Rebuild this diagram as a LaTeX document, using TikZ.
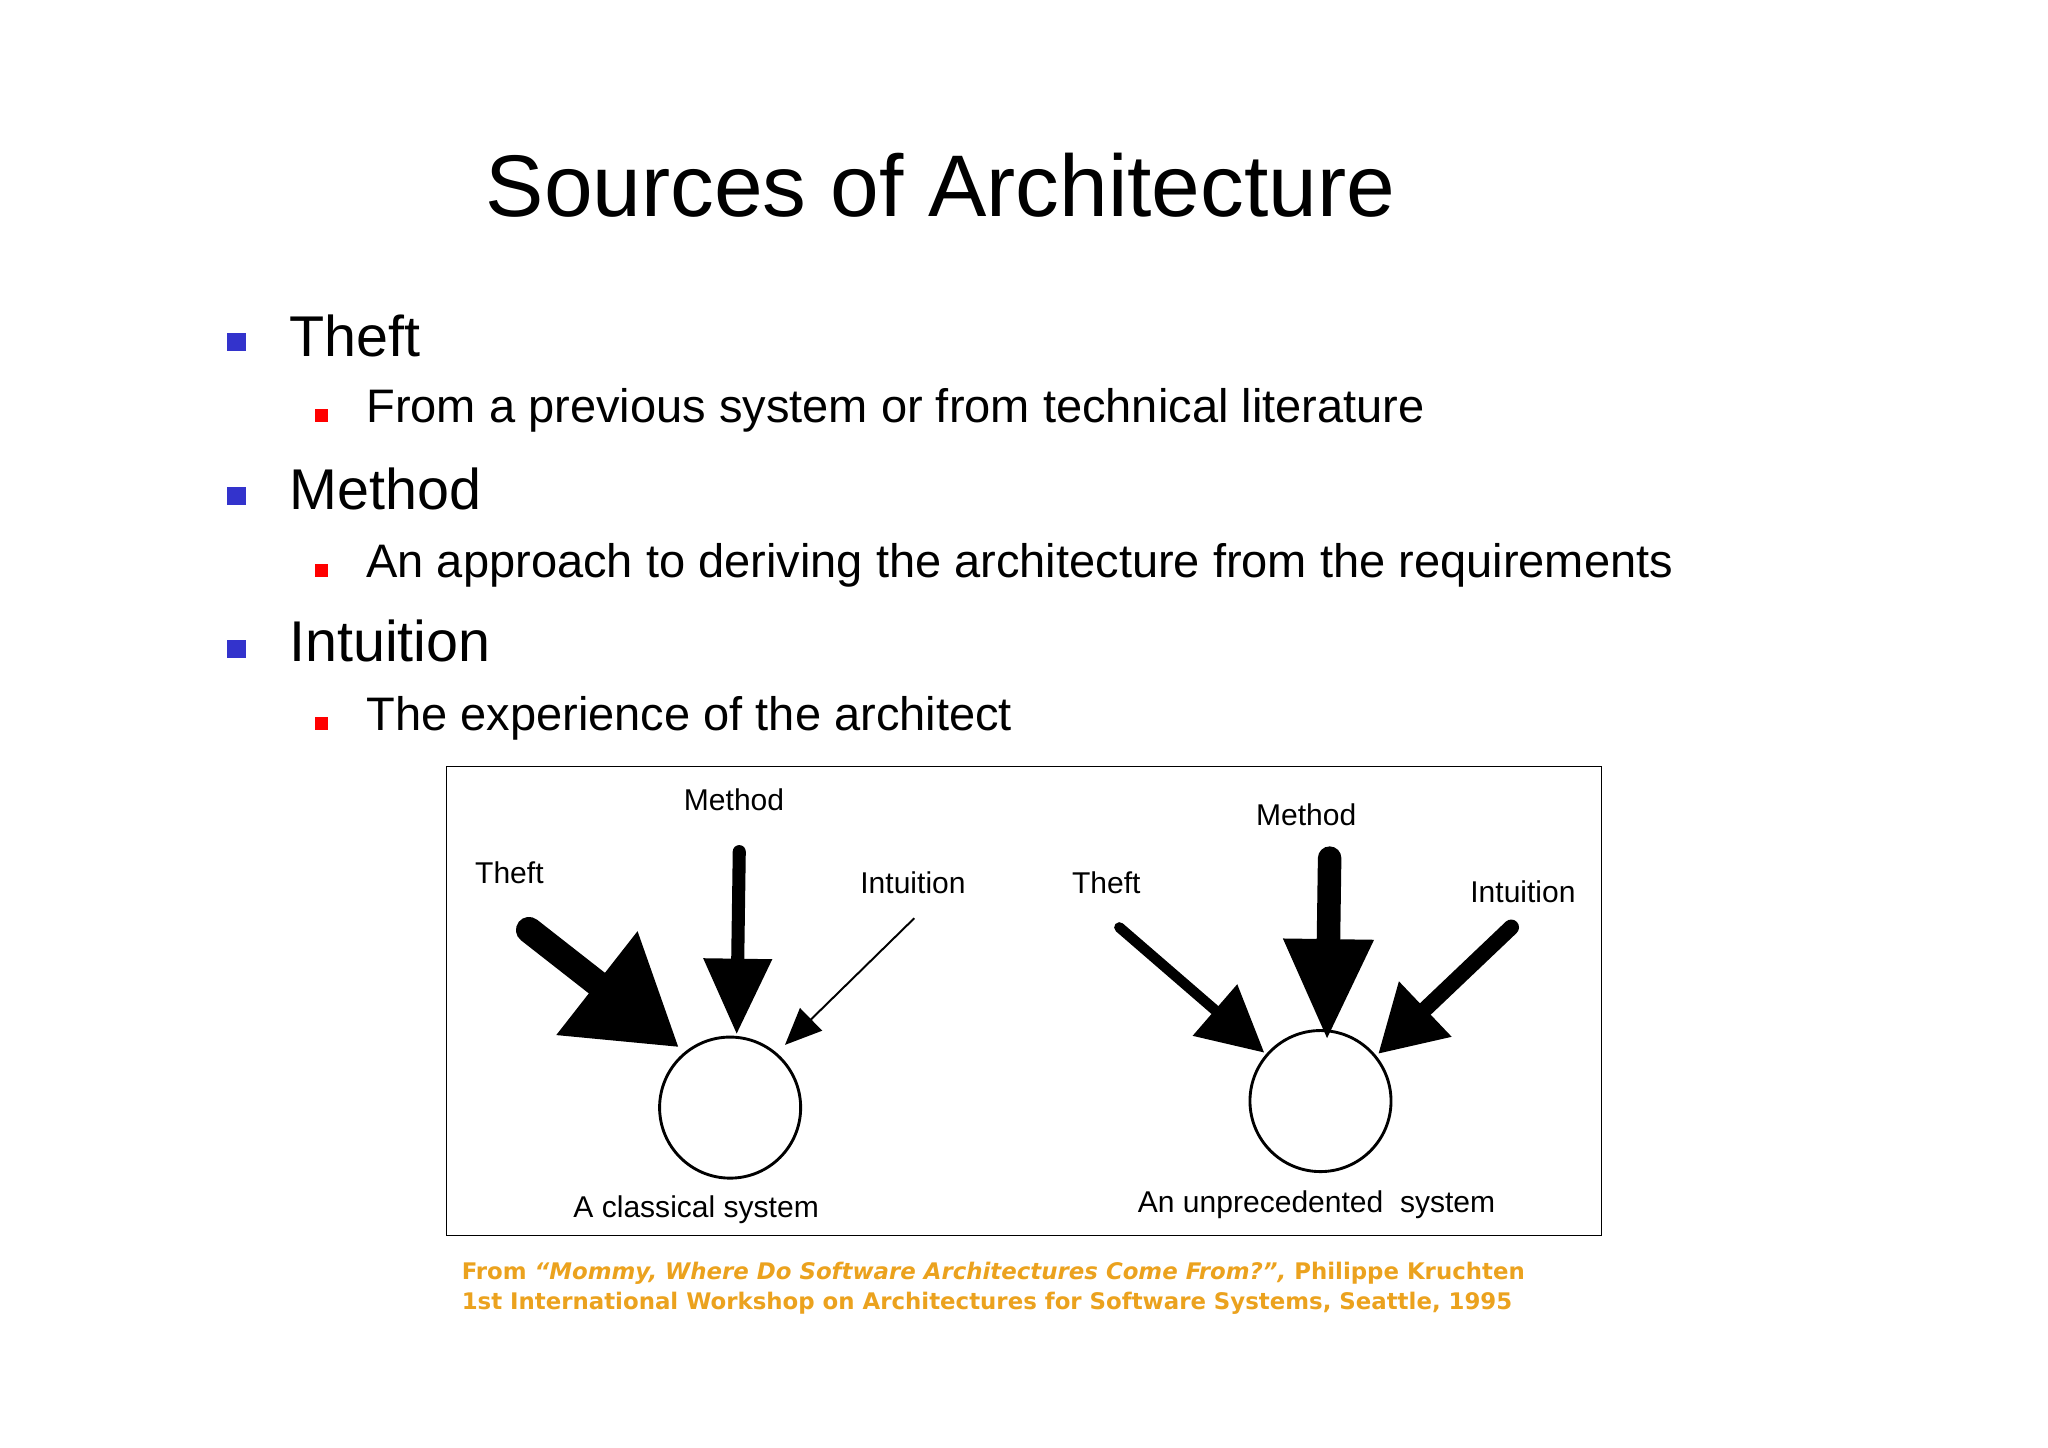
\documentclass[tikz,border=0pt]{standalone}
\usepackage{fontspec}
\setmainfont{Liberation Sans}
\newfontfamily\citefont{DejaVu Sans}
\usetikzlibrary{arrows.meta}
\definecolor{bblue}{HTML}{3333CC}
\definecolor{citeor}{HTML}{EBA21E}
\tikzset{
  lvlone/.style={anchor=west,font=\fontsize{44}{50}\selectfont},
  lvltwo/.style={anchor=west,font=\fontsize{36}{42}\selectfont},
  dlabel/.style={font=\fontsize{23}{27}\selectfont},
  sysc/.style={circle,draw,line width=2.2pt,minimum size=108pt,inner sep=0pt},
  citetext/.style={anchor=west,font=\citefont\bfseries\fontsize{17.5}{21}\selectfont,text=citeor}
}
\begin{document}
\begin{tikzpicture}[x=1pt,y=-1pt]
\useasboundingbox (0,0) rectangle (1568,1108);
\node[font=\fontsize{67}{75}\selectfont] (title) at (720,142) {Sources of Architecture};
% bullets
\foreach \y/\n in {262/a,380/b,497/c}{\fill[bblue] (174,\y-7) rectangle (188,\y+7);}
\foreach \y in {318,437,554}{\fill[red] (241,\y-5) rectangle (251,\y+5);}
\node[lvlone] (t1) at (218,257) {Theft};
\node[lvltwo] (t2) at (277,314) {From a previous system or from technical literature};
\node[lvlone] (m1) at (218,374) {Method};
\node[lvltwo] (m2) at (277,433) {An approach to deriving the architecture from the requirements};
\node[lvlone] (i1) at (218,491) {Intuition};
\node[lvltwo] (i2) at (277,550) {The experience of the architect};
% diagram box
\draw[line width=1.2pt] (342,587) rectangle (1226,946);
\node[sysc] (cl) at (559,848) {};
\node[sysc] (un) at (1011,843) {};
\node[dlabel] (lt) at (390,668) {Theft};
\node[dlabel] (lm) at (562,612) {Method};
\node[dlabel] (li) at (699,676) {Intuition};
\node[dlabel] (lc) at (533,926) {A classical system};
\node[dlabel] (rt) at (847,676) {Theft};
\node[dlabel] (rm) at (1000,624) {Method};
\node[dlabel] (ri) at (1166,683) {Intuition};
\node[dlabel] (rc) at (1008,922) {An unprecedented\ \ system};
% arrows
\coordinate (a1s) at (405,712); \coordinate (a1e) at (520,802);
\coordinate (a2s) at (566,652); \coordinate (a2e) at (564,792);
\coordinate (a3s) at (700,703); \coordinate (a3e) at (601,800);
\coordinate (b1s) at (857,710); \coordinate (b1e) at (968,806);
\coordinate (b2s) at (1018,657); \coordinate (b2e) at (1016,797);
\coordinate (b3s) at (1157,710); \coordinate (b3e) at (1055,807);
\draw[line width=20pt,line cap=round,-{Triangle[length=80pt,width=95pt]}] (a1s) -- (a1e);
\draw[line width=10pt,line cap=round,-{Triangle[length=58pt,width=50pt]}] (a2s) -- (a2e);
\draw[line width=1.5pt,-{Triangle[length=28pt,width=24pt]}] (a3s) -- (a3e);
\draw[line width=8pt,line cap=round,-{Triangle[length=50pt,width=50pt]}] (b1s) -- (b1e);
\draw[line width=18pt,line cap=round,-{Triangle[length=78pt,width=64pt]}] (b2s) -- (b2e);
\draw[line width=12pt,line cap=round,-{Triangle[length=50pt,width=55pt]}] (b3s) -- (b3e);
% citation
\node[citetext] (c1) at (350,975) {From \textit{“Mommy, Where Do Software Architectures Come From?”,} Philippe Kruchten};
\node[citetext] (c2) at (350,998) {1st International Workshop on Architectures for Software Systems, Seattle, 1995};
\end{tikzpicture}
\end{document}
